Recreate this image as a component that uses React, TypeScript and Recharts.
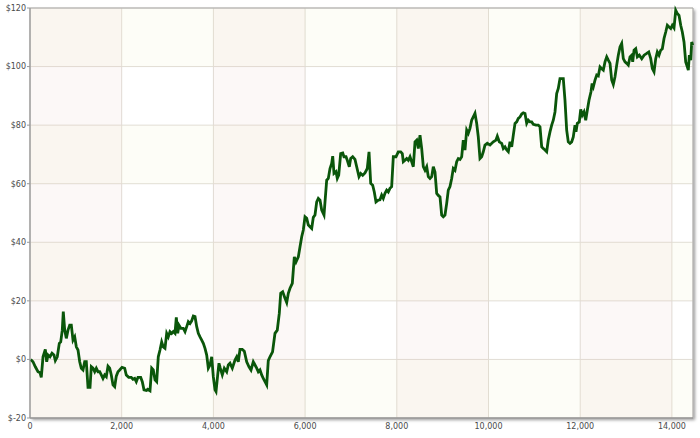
import React from "react";
import {
  LineChart,
  Line,
  XAxis,
  YAxis,
  CartesianGrid,
  ReferenceArea,
} from "recharts";

// trade number vs cumulative equity ($)
const tradeNo = [
  15, 65, 116, 174, 218, 246, 284, 334, 364, 393, 436, 480, 523, 552, 595, 639, 670, 704, 726, 757,
  792, 829, 866, 901, 938, 975, 1010, 1047, 1084, 1119, 1156, 1193, 1228, 1265, 1309, 1337, 1374, 1411, 1446, 1483,
  1520, 1555, 1592, 1629, 1664, 1701, 1738, 1773, 1810, 1847, 1882, 1919, 1956, 2007, 2065, 2100, 2153, 2209, 2246, 2283,
  2318, 2355, 2414, 2449, 2486, 2537, 2567, 2617, 2654, 2689, 2726, 2763, 2798, 2835, 2872, 2907, 2944, 2981, 3016, 3053,
  3090, 3125, 3162, 3191, 3221, 3250, 3293, 3344, 3381, 3418, 3453, 3490, 3527, 3562, 3599, 3636, 3671, 3708, 3745, 3780,
  3817, 3854, 3889, 3926, 3963, 3998, 4035, 4057, 4094, 4122, 4150, 4194, 4238, 4290, 4325, 4362, 4412, 4471, 4508, 4543,
  4580, 4630, 4674, 4726, 4776, 4820, 4870, 4907, 4944, 4979, 5016, 5053, 5088, 5125, 5162, 5197, 5234, 5290, 5343, 5393,
  5437, 5468, 5511, 5562, 5599, 5634, 5671, 5721, 5743, 5765, 5802, 5852, 5889, 5926, 5961, 5998, 6035, 6070, 6107, 6144,
  6179, 6216, 6253, 6288, 6325, 6362, 6412, 6434, 6471, 6506, 6543, 6580, 6602, 6630, 6674, 6702, 6733, 6776, 6820, 6848,
  6892, 6920, 6964, 6994, 7038, 7088, 7125, 7175, 7213, 7256, 7306, 7356, 7394, 7431, 7474, 7509, 7546, 7596, 7633, 7670,
  7705, 7742, 7779, 7814, 7851, 7888, 7924, 7982, 8032, 8085, 8120, 8142, 8179, 8216, 8251, 8288, 8325, 8360, 8397, 8434,
  8469, 8506, 8543, 8578, 8615, 8652, 8687, 8724, 8761, 8796, 8833, 8870, 8905, 8942, 8979, 9014, 9051, 9088, 9123, 9160,
  9197, 9232, 9269, 9306, 9341, 9378, 9415, 9450, 9487, 9524, 9559, 9596, 9633, 9668, 9705, 9742, 9777, 9814, 9851, 9886,
  9923, 9974, 10033, 10104, 10163, 10192, 10235, 10288, 10323, 10360, 10397, 10432, 10469, 10506, 10541, 10578, 10615, 10650, 10687, 10724,
  10759, 10796, 10833, 10868, 10905, 10942, 10977, 11036, 11086, 11123, 11160, 11195, 11232, 11269, 11304, 11341, 11378, 11413, 11450, 11487,
  11522, 11559, 11631, 11668, 11705, 11740, 11777, 11814, 11849, 11886, 11908, 11937, 11980, 12011, 12046, 12083, 12120, 12155, 12192, 12235,
  12260, 12286, 12323, 12360, 12395, 12432, 12469, 12504, 12541, 12578, 12613, 12650, 12687, 12722, 12759, 12796, 12831, 12868, 12905, 12940,
  12977, 13014, 13049, 13086, 13123, 13145, 13174, 13211, 13246, 13290, 13342, 13393, 13451, 13495, 13538, 13573, 13610, 13647, 13682, 13719,
  13756, 13791, 13828, 13865, 13900, 13937, 13974, 14009, 14046, 14083, 14118, 14155, 14192, 14227, 14264, 14301, 14336, 14358, 14380, 14410,
  14432, 14453,
];

const equity = [
  0, -0.8, -2.5, -4.2, -4.5, -6.1, 0.9, 3.4, -0.8, 1.5, 0.9, 2.1, 1.5, -0.4, 0.9, 5.5, 6, 10, 16.3, 10,
  7.2, 10, 11.7, 11.7, 6.6, 7.7, 4.3, 3.2, -0.8, -3, -3.6, -0.8, -0.8, -9.5, -9.5, -2.5, -3, -4.2, -3, -4.2,
  -4.2, -5.3, -6.5, -5.3, -5.9, -2.3, -3, -5.3, -8.7, -9.3, -5.7, -4.2, -3.6, -2.7, -3, -5.3, -6.1, -6.1, -6.8, -6.5,
  -7.6, -6.1, -6.1, -7.6, -10.4, -10.6, -10.2, -10.7, -3, -3.6, -7, -7.6, 0.9, 3.2, 6, 4.3, 3.8, 8.9, 7.7, 9.5,
  8.9, 9.5, 8.9, 14.4, 8.9, 11.7, 10.6, 10.6, 9.5, 11.2, 12.9, 12.3, 13.2, 14.8, 14.6, 11.2, 8.9, 7.7, 6.6, 5.5,
  3.8, 1.5, -3, -1.9, 0.9, -5.9, -10.4, -11, -5.3, -1.3, -3, -5.3, -3, -4.2, -1.9, -1.3, -3, -0.2, 0.9, -0.8,
  3.4, 3.4, 2.8, -0.8, -2.5, -3.6, -0.8, -1.9, -3, -4.2, -3.6, -5.3, -6.5, -7.6, -8.7, -0.4, 0.9, 2.6, 8.9, 10,
  15.7, 22.6, 23.1, 20.9, 19.4, 22.6, 24.3, 26, 30.5, 35, 33.3, 35, 38.5, 41.9, 44.2, 48.7, 48.2, 45.9, 45.3, 44.7,
  48.5, 49.3, 53.8, 55, 54.4, 51, 49.3, 53.8, 61.2, 61.8, 65.2, 66.9, 69.4, 63.5, 64.1, 61.8, 62.9, 70.3, 70.5, 69.2,
  69.2, 68, 65.8, 68.6, 69.2, 68.3, 65.8, 62.4, 63.5, 62.9, 63.7, 65.2, 70.9, 60.1, 59.5, 57.2, 53.8, 54.4, 54.5, 56.1,
  55, 56.7, 57.8, 57.2, 58.4, 59, 69.2, 69.2, 70.9, 70.9, 70.3, 67.5, 68, 68.6, 68, 69.2, 67.5, 65.8, 74.3, 74.9,
  72, 76.6, 72, 65.8, 64.6, 65.8, 62.4, 61.8, 62.4, 65.8, 64, 56.7, 56, 55.5, 49.3, 48.7, 49.3, 53.3, 57.8, 59,
  61.8, 65.2, 64.6, 67.5, 68.6, 68.3, 69.2, 74.9, 71.5, 78.3, 77.2, 78.9, 81.7, 82.8, 84, 80.6, 76, 68.6, 69.2, 70.9,
  73.2, 73.8, 73.2, 74.3, 74.9, 76.2, 74.3, 73.8, 72, 72.6, 71.5, 70.9, 74.3, 72.6, 76.6, 80.6, 81.1, 82.3, 82.8, 83.8,
  84.2, 84, 80.6, 81.7, 81.1, 81.1, 80.3, 80, 80, 79.4, 72.6, 72, 71.5, 70.9, 74.9, 77.7, 80, 81.7, 84.5, 90.8,
  92.5, 95.9, 95.9, 88.5, 78.3, 74.3, 73.8, 74.3, 76, 80, 77.7, 80.6, 81.1, 85.4, 83.4, 84.5, 81.7, 85.1, 88.5, 91.4,
  94.2, 93.1, 95.4, 97.1, 96.8, 99.9, 99.3, 98.8, 101.6, 103.3, 102.2, 101.1, 95.4, 93.9, 96.5, 100.5, 103.9, 106.7, 107.9, 102.7,
  101.6, 101.1, 100.5, 103.3, 103.9, 101.6, 105.6, 106.1, 103.3, 103.9, 102.7, 103.9, 104.5, 105, 102.7, 99.3, 98.2, 102.7, 105, 103.9,
  105.6, 106.1, 109.6, 111.8, 114.1, 113.5, 113, 114.1, 113.2, 119.2, 118.1, 117.5, 114.1, 111.8, 108.4, 101.6, 99.9, 98.8, 103.9, 102.2,
  108.4, 107.3,
];

const xTicks = [0, 2000, 4000, 6000, 8000, 10000, 12000, 14000];
const yTicks = [-20, 0, 20, 40, 60, 80, 100, 120];
const xMax = 14460;

// shaded column/row bands
const colBands = [[0, 2000], [4000, 6000], [8000, 10000], [12000, 14000]];
const rowBands = [[-20, 0], [20, 40], [60, 80], [100, 120]];

const data = tradeNo.map((t, i) => ({ trade: t, equity: equity[i] }));

const tickStyle = { fontFamily: "DejaVu Sans, Verdana, sans-serif", fontSize: 8, fill: "#4a4a4a" };

export default function App() {
  return (
    <div style={{ position: "absolute", left: 0, top: 0, width: 700, height: 438 }}>
      <div
        style={{
          position: "absolute",
          left: 30,
          top: 8,
          width: 663,
          height: 410,
          background: "#fff",
          boxShadow: "2px 2px 3px rgba(0,0,0,0.4)",
        }}
      />
      <LineChart
        width={700}
        height={438}
        data={data}
        margin={{ top: 8, right: 7, bottom: 0, left: 0 }}
      >
        {rowBands.map(([a, b]) => (
          <ReferenceArea key={"r" + a} x1={0} x2={xMax} y1={a} y2={b} fill="#f0f0c8" fillOpacity={0.15} stroke="none" />
        ))}
        {colBands.map(([a, b]) => (
          <ReferenceArea key={"c" + a} x1={a} x2={b} y1={-20} y2={120} fill="#e8c8bc" fillOpacity={0.12} stroke="none" />
        ))}
        <CartesianGrid stroke="#e0dcd6" />
        <ReferenceArea x1={0} x2={xMax} y1={-20} y2={120} fill="none" stroke="#a8a8a8" />
        <XAxis
          dataKey="trade"
          type="number"
          domain={[0, xMax]}
          ticks={xTicks}
          interval={0}
          tickFormatter={(v) => v.toLocaleString("en-US")}
          tick={tickStyle}
          tickLine={false}
          tickSize={4}
          tickMargin={1}
          stroke="#888"
          height={20}
        />
        <YAxis
          type="number"
          domain={[-20, 120]}
          ticks={yTicks}
          interval={0}
          tickFormatter={(v) => `$${v}`}
          tick={tickStyle}
          tickSize={3}
          tickMargin={1}
          stroke="#999"
          width={30}
        />
        <Line
          type="linear"
          dataKey="equity"
          stroke="#0a560a"
          strokeWidth={2.8}
          dot={false}
          isAnimationActive={false}
        />
      </LineChart>
    </div>
  );
}
